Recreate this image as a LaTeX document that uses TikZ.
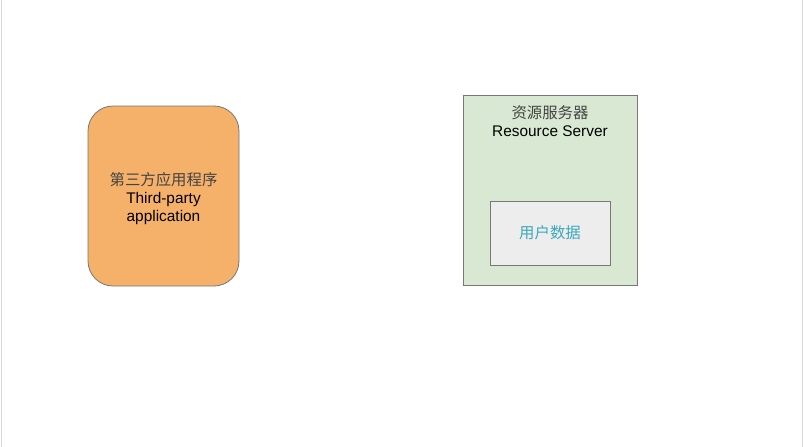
\documentclass[tikz,border=0pt]{standalone}
\usepackage{fontspec}
\usetikzlibrary{positioning}
\setmainfont{Liberation Sans}
\newfontfamily\cjk{Noto Sans CJK SC}
\definecolor{appfill}{HTML}{F5B06A}
\definecolor{srvfill}{HTML}{D8E8D3}
\definecolor{datafill}{HTML}{EDEDED}
\definecolor{edge}{HTML}{777777}
\definecolor{datatext}{HTML}{3CA8BA}
\definecolor{cjktext}{HTML}{444444}
\tikzset{
  box/.style={draw=edge,line width=0.8pt,inner sep=0pt},
  lbl/.style={font=\fontsize{15.4}{19}\selectfont,align=center,inner sep=0pt}
}
\begin{document}
\begin{tikzpicture}[x=1pt,y=-1pt]
        \useasboundingbox (0,0) rectangle (804,447);
        \draw[black!15,line width=1pt] (1,0) -- (1,447);
        \draw[black!15,line width=1pt] (802.5,0) -- (802.5,447);
        \node[box,fill=appfill,rounded corners=25pt,minimum width=151pt,minimum height=180pt] (A) at (163.5,196) {};
        \node[lbl] (Al) at (163.5,199) {{\cjk\color{cjktext}第三方应用程序}\\[-1pt]Third-party\\[-1pt]application};
        \node[box,fill=srvfill,minimum width=174pt,minimum height=190pt] (R) at (550,190) {};
        \node[lbl,below=11pt of R.north] (Rl) {{\cjk\color{cjktext}资源服务器}\\[-1pt]Resource Server};
        \node[box,fill=datafill,minimum width=120pt,minimum height=64pt] (D) at (550,233) {};
        \node[lbl,text=datatext] (Dl) at (D.center) {\cjk 用户数据};
    \end{tikzpicture}
\end{document}
